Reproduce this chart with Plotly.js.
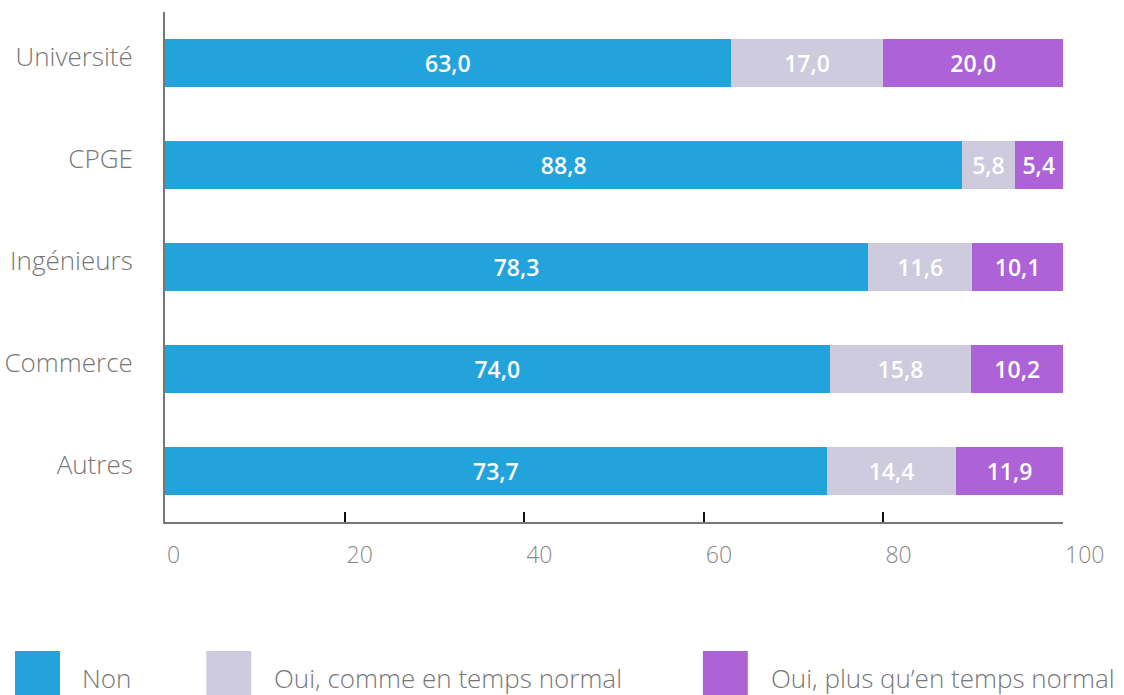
<!DOCTYPE html>
<html>
<head>
<meta charset="utf-8">
<script src="https://cdn.plot.ly/plotly-3.0.1.min.js"></script>
<style>html,body{margin:0;padding:0;background:#fff;}#chart{width:1124px;height:695px;}</style>
</head>
<body>
<div id="chart"></div>
<script>
const categories = ["Université", "CPGE", "Ingénieurs", "Commerce", "Autres"];
const seriesNames = ["Non", "Oui, comme en temps normal", "Oui, plus qu’en temps normal"];
const nonValues = [63.0, 88.8, 78.3, 74.0, 73.7];
const commeValues = [17.0, 5.8, 11.6, 15.8, 14.4];
const plusValues = [20.0, 5.4, 10.1, 10.2, 11.9];
const seriesColors = ["#22a3dc", "#cdcbdd", "#ad62d8"];
const xTicks = [0, 20, 40, 60, 80, 100];

const FONT = "Open Sans, Noto Sans, sans-serif";
const fmt = v => v.toFixed(1).replace(".", ",");
const allValues = [nonValues, commeValues, plusValues];

const traces = allValues.map((vals, i) => ({
  type: "bar",
  orientation: "h",
  name: seriesNames[i],
  y: categories,
  x: vals,
  text: vals.map(fmt),
  textposition: "inside",
  insidetextanchor: "middle",
  constraintext: "none",
  textangle: 0,
  textfont: {family: FONT, size: 23, color: "#ffffff", weight: 600},
  marker: {color: seriesColors[i], line: {width: 0}},
  hoverinfo: "skip",
  showlegend: false
}));

// Legend drawn below the plot with large swatches
const legendX = [[-0.167, -0.117, -0.095], [0.046, 0.096, 0.119], [0.599, 0.649, 0.673]];
const shapes = [];
const annotations = [];
seriesNames.forEach((n, i) => {
  shapes.push({type: "rect", xref: "paper", yref: "paper",
    x0: legendX[i][0], x1: legendX[i][1], y0: -0.339, y1: -0.253,
    fillcolor: seriesColors[i], line: {width: 0}, layer: "above"});
  annotations.push({xref: "paper", yref: "paper", x: legendX[i][2], y: -0.305,
    xanchor: "left", yanchor: "middle", showarrow: false, text: n,
    font: {family: FONT, size: 26, color: "#777777", weight: 300}});
});

const layout = {
  width: 1124, height: 695,
  margin: {l: 165, r: 61, t: 12, b: 173},
  paper_bgcolor: "#ffffff", plot_bgcolor: "#ffffff",
  barmode: "stack",
  bargap: 0.52,
  separators: ",.",
  showlegend: false,
  xaxis: {
    range: [0, 100], tickvals: xTicks, ticktext: xTicks.map(String),
    showgrid: false, zeroline: false,
    showline: true, linecolor: "#777777", linewidth: 2,
    ticks: "inside", ticklen: 10, tickwidth: 2, tickcolor: "#111111",
    ticklabelposition: "outside right", ticklabelstandoff: 11,
    tickfont: {family: FONT, size: 23, color: "#888888", weight: 300},
    fixedrange: true
  },
  yaxis: {
    autorange: "reversed", type: "category",
    showgrid: false, zeroline: false,
    showline: true, linecolor: "#777777", linewidth: 2,
    ticks: "", ticklabelstandoff: 25, ticklabelshift: 6,
    tickfont: {family: FONT, size: 26, color: "#777777", weight: 300},
    fixedrange: true
  },
  shapes: shapes,
  annotations: annotations
};

Plotly.newPlot("chart", traces, layout, {displayModeBar: false, staticPlot: true});
</script>
</body>
</html>
